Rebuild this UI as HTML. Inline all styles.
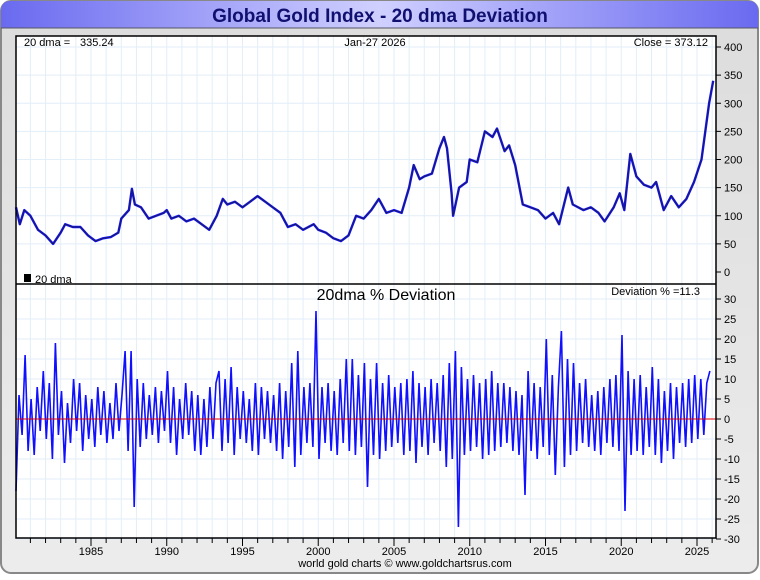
<!DOCTYPE html>
<html><head><meta charset="utf-8"><style>
body{margin:0;width:760px;height:575px;overflow:hidden;background:#fff;font-family:"Liberation Sans",sans-serif}
</style></head><body>
<svg id="chart" width="760" height="575" xmlns="http://www.w3.org/2000/svg" font-family="Liberation Sans, sans-serif">
<defs>
<linearGradient id="tg" x1="0" x2="1" y1="0" y2="0">
<stop offset="0" stop-color="#6a6af0"/><stop offset="0.5" stop-color="#d0d0ff"/><stop offset="1" stop-color="#6a6af0"/>
</linearGradient>
<linearGradient id="bg" x1="0" x2="0" y1="0" y2="1">
<stop offset="0" stop-color="#dcdcdc"/><stop offset="1" stop-color="#ececec"/>
</linearGradient>
</defs>
<rect x="1" y="1" width="757" height="572" rx="10" fill="url(#bg)" stroke="#888" stroke-width="2"/>
<path d="M1,28 L1,11 Q1,1 11,1 L748,1 Q758,1 758,11 L758,28 Z" fill="url(#tg)"/>
<line x1="1" y1="28" x2="758" y2="28" stroke="#556" stroke-width="1"/>
<text x="380" y="22" text-anchor="middle" font-size="19" font-weight="bold" fill="#101070">Global Gold Index - 20 dma Deviation</text>
<rect x="16" y="36" width="700" height="502" fill="#fff"/>
<g id="grid"></g>
<g id="marks"></g>
<rect x="16" y="36" width="700" height="502" fill="none" stroke="#000" stroke-width="1.5"/>
<line x1="16" y1="284" x2="716" y2="284" stroke="#000" stroke-width="1.5"/>
<g id="axes"></g>
<text x="24" y="46" font-size="11">20 dma =</text>
<text x="80" y="46" font-size="11">335.24</text>
<text x="375" y="46" text-anchor="middle" font-size="11">Jan-27  2026</text>
<text x="708" y="46" text-anchor="end" font-size="11">Close = 373.12</text>
<rect x="24" y="274" width="7" height="8" fill="#000"/>
<text x="35" y="283" font-size="11">20 dma</text>
<text x="386" y="300" text-anchor="middle" font-size="16">20dma  %  Deviation</text>
<text x="700" y="295" text-anchor="end" font-size="11">Deviation % =11.3</text>
<text x="405" y="567" text-anchor="middle" font-size="11">world gold charts © www.goldchartsrus.com</text>
</svg>
<script>
const priceYears=[1980.05,1980.3,1980.6,1981.0,1981.5,1982.0,1982.5,1983.0,1983.3,1983.8,1984.3,1984.8,1985.3,1985.8,1986.3,1986.8,1987.0,1987.5,1987.7,1987.9,1988.3,1988.8,1989.3,1989.8,1990.0,1990.3,1990.8,1991.3,1991.8,1992.3,1992.8,1993.3,1993.7,1994.0,1994.5,1995.0,1995.5,1996.0,1996.5,1997.0,1997.5,1998.0,1998.5,1999.0,1999.7,2000.0,2000.5,2001.0,2001.5,2002.0,2002.5,2003.0,2003.5,2004.0,2004.5,2005.0,2005.5,2006.0,2006.3,2006.7,2007.0,2007.5,2008.0,2008.3,2008.5,2008.8,2008.9,2009.3,2009.8,2010.0,2010.5,2011.0,2011.5,2011.8,2012.3,2012.6,2013.0,2013.5,2014.0,2014.5,2015.0,2015.5,2015.9,2016.5,2016.8,2017.5,2018.0,2018.5,2018.9,2019.5,2019.9,2020.2,2020.6,2021.0,2021.5,2022.0,2022.3,2022.8,2023.3,2023.8,2024.3,2024.8,2025.3,2025.8,2026.07];
const priceValues=[115,85,110,100,75,65,50,70,85,80,80,65,55,60,62,70,95,110,148,120,115,95,100,105,110,95,100,90,95,85,75,100,130,120,125,115,125,135,125,115,105,80,85,75,85,75,70,60,55,65,100,95,110,130,105,110,105,150,190,165,170,175,220,240,220,140,100,150,160,200,195,250,240,255,215,225,190,120,115,110,95,105,85,150,120,110,115,105,90,115,140,110,210,170,155,150,160,110,135,115,130,160,200,300,340];
const devStart=1980.05;
const devStep=0.2;
const devValues=[-18,6,-4,16,-8, 5,-9,8,-3,12, -5,9,-10,19,-4, 7,-11,4,-6,10, -3,9,-8,6,-5, 5,-7,8,-4,7, -6,4,-5,9,-3, 6,17,-8,17,-22, 10,-7,9,-5,6, -4,8,-6,7,-3, 12,-6,8,-9,5, -5,9,-4,7,-8, 6,-9,5,-7,8, -5,9,12,-8,10, -6,13,-9,8,-5, 7,-6,5,-8,9, -9,8,-5,7,-6, 6,-8,9,-10,7, -7,14,-12,17,-9, 8,-6,9,-7,27, -10,8,-6,9,-8, 7,-9,10,-6,15, -8,15,-9,11,-7, 14,-17,10,-9,14, -10,9,-8,11,-7, 8,-6,9,-9,10, -8,12,-11,9,-7, 8,-9,10,-6,9, -8,11,-12,14,-10, 17,-27,13,-9,10, -8,11,-7,9,-10, 10,-9,12,-8,9, -7,9,-6,8,-8, 7,-9,6,-19,12, -8,9,-10,8,-7, 20,-9,11,-14,8, 22,-12,15,-9,14, -8,9,-6,10,-7, 6,-8,7,-9,8, -6,10,-7,11,-8, 21,-23,12,-9,10, -8,11,-9,8,-7, 13,-9,10,-11,7, -8,9,-10,8,-6, 9,-7,10,-6,11, -5,10,-4,9,12];
const priceTicks=[0,50,100,150,200,250,300,350,400];
const devTicks=[30,25,20,15,10,5,0,-5,-10,-15,-20,-25,-30];
const yearLabels=[1985,1990,1995,2000,2005,2010,2015,2020,2025];

const NS="http://www.w3.org/2000/svg";
const X=y=>16+(y-1980.05)*15.15;
const YP=v=>272-v*0.5625;
const YD=v=>419-v*4;
function mk(tag,attrs,parent){const e=document.createElementNS(NS,tag);for(const k in attrs)e.setAttribute(k,attrs[k]);parent.appendChild(e);return e;}
const grid=document.getElementById('grid'),marks=document.getElementById('marks'),axes=document.getElementById('axes');
for(let yr=1981;yr<=2026;yr++){
  const l=mk('line',{x1:X(yr),x2:X(yr),y1:36,y2:538,stroke:'#e2eef8','stroke-width':1},grid);
  
  
  const t=mk('line',{x1:X(yr),x2:X(yr),y1:538,y2:yearLabels.includes(yr)?546:543,stroke:'#000'},axes);
  
  
}
yearLabels.forEach(yr=>{
  const t=mk('text',{x:X(yr),y:555,'text-anchor':'middle','font-size':11},axes);t.textContent=yr;
  
  
});
priceTicks.forEach(v=>{
  if(v>0){const g=mk('line',{x1:16,x2:716,y1:YP(v),y2:YP(v),stroke:'#e2eef8'},grid);
  
  }
  mk('line',{x1:716,x2:721,y1:YP(v),y2:YP(v),stroke:'#000'},axes);
  const t=mk('text',{x:724,y:YP(v)+4,'font-size':11},axes);t.textContent=v;
  
  
});
devTicks.forEach(v=>{
  const g=mk('line',{x1:16,x2:716,y1:YD(v),y2:YD(v),stroke:'#e2eef8'},grid);
  
  
  mk('line',{x1:716,x2:721,y1:YD(v),y2:YD(v),stroke:'#000'},axes);
  const t=mk('text',{x:724,y:YD(v)+4,'font-size':11},axes);t.textContent=v;
  
  
});
const pd=priceYears.map((y,i)=>(i?'L':'M')+X(y).toFixed(1)+','+YP(priceValues[i]).toFixed(1)).join(' ');
const pb=mk('path',{d:pd,fill:'none',stroke:'#1010ff','stroke-width':2.4,'stroke-linejoin':'round'},marks);


const pk=mk('path',{d:pd,fill:'none',stroke:'#222','stroke-width':0.7},marks);


const dd=devValues.map((v,i)=>(i?'L':'M')+X(devStart+i*devStep).toFixed(1)+','+YD(v).toFixed(1)).join(' ');
const dl=mk('path',{d:dd,fill:'none',stroke:'#1010ff','stroke-width':1.6},marks);


const z=mk('line',{x1:16,x2:716,y1:YD(0),y2:YD(0),stroke:'#e00000','stroke-width':1},marks);


</script>
</body></html>
